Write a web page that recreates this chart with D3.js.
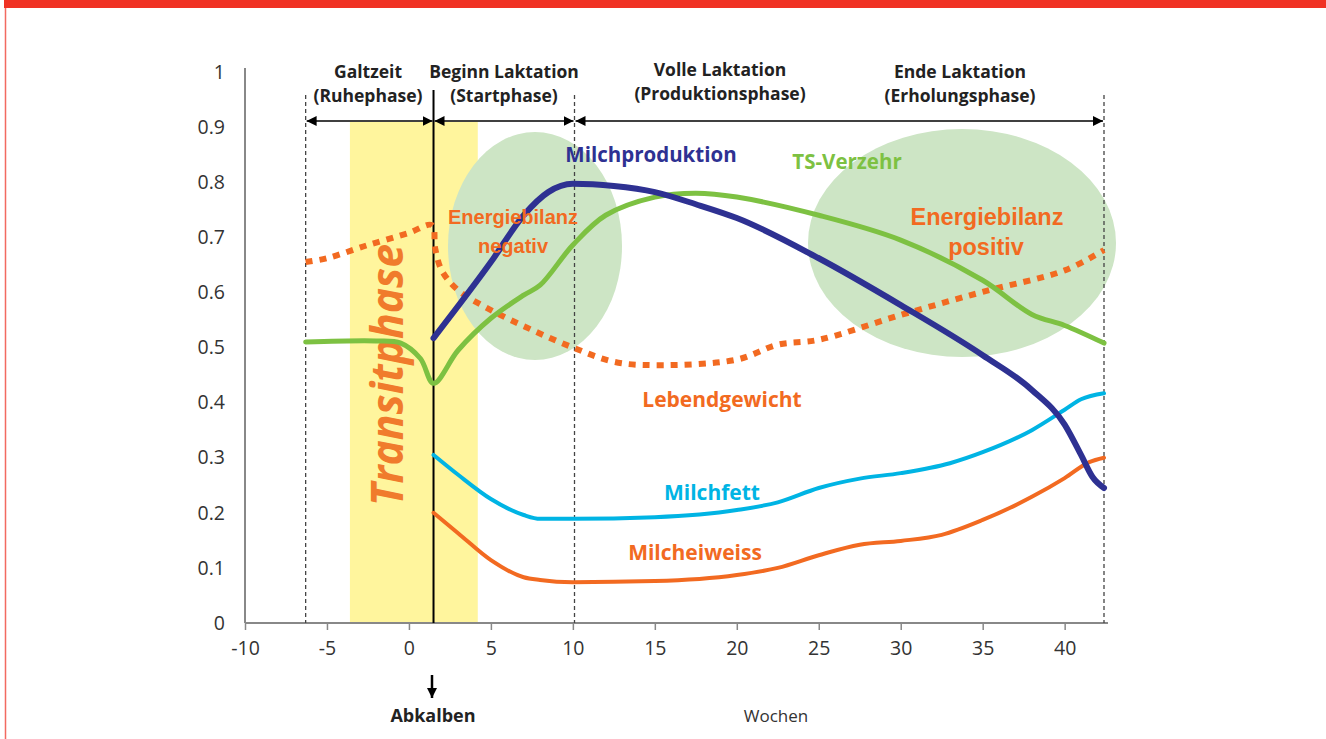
<!DOCTYPE html>
<meta charset="utf-8">
<style>
body{ margin:0; background:white; font-family:"Open Sans", "Noto Sans", sans-serif; }
svg text{ font-family:"Open Sans", "Noto Sans", sans-serif; }
.tick text{ font-size:19.5px; fill:#333; }
.lbl{ font-family:"Liberation Sans", Arial, sans-serif !important; font-weight:bold; }
</style>
<svg id="chart" width="1326" height="739"></svg>
<script src="https://cdn.jsdelivr.net/npm/d3@7/dist/d3.min.js"></script>
<script>

// weeks relative to calving
var xTicks = [-10, -5, 0, 5, 10, 15, 20, 25, 30, 35, 40]
var yTicks = [0, 0.1, 0.2, 0.3, 0.4, 0.5, 0.6, 0.7, 0.8, 0.9, 1]

var milchproduktion = [[1.5,0.517],[5,0.655],[7,0.74],[8.5,0.782],[10,0.797],[12.5,0.793],[15,0.782],[17.5,0.76],[20,0.735],[25,0.662],[30,0.577],[35,0.486],[38,0.423],[40,0.36],[41,0.305],[41.7,0.265],[42.4,0.245]]
var tsVerzehr = [[-6.3,0.51],[-2,0.512],[-0.5,0.508],[0.7,0.48],[1.5,0.435],[3,0.495],[5,0.553],[7,0.595],[8,0.613],[10,0.686],[12,0.74],[15,0.773],[17.5,0.78],[20,0.773],[25,0.74],[30,0.695],[35,0.622],[38,0.56],[40,0.54],[42.4,0.508]]
var lebendgewicht = [[-6.3,0.655],[-5,0.662],[-2.5,0.686],[0,0.708],[1.4,0.722],[1.6,0.68],[2,0.64],[3,0.604],[5,0.568],[7.5,0.532],[10,0.5],[12.5,0.474],[15,0.468],[20,0.478],[22.5,0.505],[25,0.514],[30,0.559],[35,0.601],[40,0.64],[42.4,0.677]]
var milchfett = [[1.5,0.305],[3,0.269],[5,0.225],[7,0.196],[8,0.189],[10,0.189],[15,0.192],[20,0.205],[22.5,0.219],[25,0.245],[27.5,0.262],[30,0.272],[33,0.29],[35,0.31],[38,0.35],[40,0.387],[41,0.406],[42.4,0.417]]
var milcheiweiss = [[1.5,0.2],[3,0.163],[5,0.114],[7,0.083],[8,0.078],[10,0.074],[15,0.076],[20,0.087],[22.5,0.1],[25,0.123],[27.5,0.142],[30,0.149],[32.5,0.16],[35,0.187],[38,0.229],[40,0.263],[41.5,0.292],[42.4,0.3]]

var phaseBounds = [-6.3, 1.5, 10.1, 42.4]
var phaseNames = [["Galtzeit", "(Ruhephase)"], ["Beginn Laktation", "(Startphase)"], ["Volle Laktation", "(Produktionsphase)"], ["Ende Laktation", "(Erholungsphase)"]]
var transit = [-3.6, 4.2]

var svg = d3.select('#chart')

// red frame
svg.append('rect').attr('x', 4).attr('y', 0).attr('width', 1322).attr('height', 8).style('fill', '#f03224')
svg.append('line').attr('x1', 5.5).attr('x2', 5.5).attr('y1', 8).attr('y2', 739).style('stroke', '#f26a60').style('stroke-width', 1.5)

var x = d3.scaleLinear().domain([-10, 42.4]).range([245, 1104])
var y = d3.scaleLinear().domain([0, 1]).range([623, 72])

// transit band
svg.append('rect')
    .attr('x', x(transit[0])).attr('y', 122)
    .attr('width', x(transit[1]) - x(transit[0])).attr('height', y(0) - 122)
    .style('fill', '#fff59d')

// energy balance ellipses
svg.append('ellipse').attr('cx', 535).attr('cy', 246).attr('rx', 87).attr('ry', 114).style('fill', '#cde5c5')
svg.append('ellipse').attr('cx', 962).attr('cy', 243).attr('rx', 154).attr('ry', 114).style('fill', '#cde5c5')

// axes
var xAxis = d3.axisBottom(x).tickValues(xTicks).tickFormat(function(d){ return String(d) }).tickSize(7).tickSizeOuter(0)
var gx = svg.append('g').attr('transform', 'translate(0,' + y(0) + ')').call(xAxis)
gx.select('.domain').style('stroke', '#888').style('stroke-width', 2)
gx.selectAll('.tick line').style('stroke', '#888').style('stroke-width', 1.5)
gx.selectAll('.tick text').attr('dy', '1.15em')
gx.select('.domain').attr('d', 'M' + x(-10) + ',0H1108')

var yAxis = d3.axisLeft(y).tickValues(yTicks).tickFormat(function(d){ return d === 0 || d === 1 ? d : d3.format('.1f')(d) }).tickSize(0)
var gy = svg.append('g').attr('transform', 'translate(' + x(-10) + ',0)').call(yAxis)
gy.select('.domain').style('stroke', '#888').style('stroke-width', 2).attr('d', 'M0,68V' + y(0))
gy.selectAll('.tick text').attr('x', -20).style('text-anchor', 'end')

// phase boundaries
phaseBounds.forEach(function(b, i){
  svg.append('line')
      .attr('x1', x(b)).attr('x2', x(b))
      .attr('y1', i == 1 ? 90 : 95).attr('y2', y(0))
      .style('stroke', i == 1 ? '#000' : '#444')
      .style('stroke-width', i == 1 ? 2 : 1.3)
      .style('stroke-dasharray', i == 1 ? null : '4,3')
})

var defs = svg.append('defs')
defs.append('marker').attr('id', 'ah').attr('viewBox', '0 0 10 10').attr('refX', 10).attr('refY', 5)
    .attr('markerWidth', 10).attr('markerHeight', 10).attr('markerUnits', 'userSpaceOnUse').attr('orient', 'auto-start-reverse')
  .append('path').attr('d', 'M0,0L10,5L0,10z').style('fill', '#000')

for (var i = 0; i < 3; i++) {
  svg.append('line')
      .attr('x1', x(phaseBounds[i]) + 1).attr('x2', x(phaseBounds[i + 1]) - 1)
      .attr('y1', 121).attr('y2', 121)
      .style('stroke', '#000').style('stroke-width', 1.5)
      .attr('marker-start', 'url(#ah)').attr('marker-end', 'url(#ah)')
}

var phaseCx = [368, 504, 720, 960]
var phaseY = [[72, 96], [72, 96], [70, 94], [72, 96]]
phaseNames.forEach(function(p, i){
  p.forEach(function(t, j){
    svg.append('text').attr('x', phaseCx[i]).attr('y', phaseY[i][j] + 6)
        .style('text-anchor', 'middle').style('font-size', '17.5px').style('font-weight', 'bold').style('fill', '#222')
        .text(t)
  })
})

// Transitphase label
svg.append('text')
    .attr('transform', 'translate(403,375) rotate(-90)')
    .style('text-anchor', 'middle').style('font-size', '44px').style('font-weight', 'bold').style('font-style', 'italic')
    .style('fill', '#f07b2c')
    .attr('textLength', 262).attr('lengthAdjust', 'spacingAndGlyphs')
    .text('Transitphase')

// series
var line = d3.line().x(function(d){ return x(d[0]) }).y(function(d){ return y(d[1]) }).curve(d3.curveMonotoneX)
var lineCR = d3.line().x(function(d){ return x(d[0]) }).y(function(d){ return y(d[1]) }).curve(d3.curveCatmullRom.alpha(0.5))

svg.append('path').datum(lebendgewicht).attr('d', lineCR)
    .style('fill', 'none').style('stroke', '#f26a21').style('stroke-width', 6).style('stroke-dasharray', '7,7')
svg.append('path').datum(milcheiweiss).attr('d', line)
    .style('fill', 'none').style('stroke', '#f26a21').style('stroke-width', 4).style('stroke-linecap', 'round')
svg.append('path').datum(milchfett).attr('d', line)
    .style('fill', 'none').style('stroke', '#00b4e4').style('stroke-width', 4).style('stroke-linecap', 'round')
svg.append('path').datum(tsVerzehr).attr('d', lineCR)
    .style('fill', 'none').style('stroke', '#7dc142').style('stroke-width', 5).style('stroke-linecap', 'round')
svg.append('path').datum(milchproduktion).attr('d', line)
    .style('fill', 'none').style('stroke', '#2e3192').style('stroke-width', 6).style('stroke-linecap', 'round')

// series labels
var labels = [
  ['Milchproduktion', 651, 162, '#2e3192', 20.5, false],
  ['TS-Verzehr', 847, 169, '#7dc142', 20.5, false],
  ['Lebendgewicht', 722, 407, '#f26a21', 21, false],
  ['Milchfett', 712, 500, '#00b4e4', 21, false],
  ['Milcheiweiss', 695, 560, '#f26a21', 21, false],
  ['Energiebilanz', 513, 224, '#f26a21', 20, true],
  ['negativ', 513, 253, '#f26a21', 20, true],
  ['Energiebilanz', 987, 225, '#f26a21', 23.5, true],
  ['positiv', 986, 255, '#f26a21', 23.5, true]
]
labels.forEach(function(l){
  svg.append('text').attr('x', l[1]).attr('y', l[2])
      .attr('class', l[5] ? 'lbl' : null)
      .style('text-anchor', 'middle').style('font-size', l[4] + 'px').style('font-weight', 'bold')
      .style('fill', l[3]).text(l[0])
})

// calving arrow
svg.append('line').attr('x1', 432).attr('x2', 432).attr('y1', 675).attr('y2', 698)
    .style('stroke', '#000').style('stroke-width', 2.5).attr('marker-end', 'url(#ah)')
svg.append('text').attr('x', 433).attr('y', 722).style('text-anchor', 'middle')
    .style('font-size', '18px').style('font-weight', 'bold').style('fill', '#222').text('Abkalben')
svg.append('text').attr('x', 776).attr('y', 722).style('text-anchor', 'middle')
    .style('font-size', '17px').style('fill', '#333').text('Wochen')

</script>
